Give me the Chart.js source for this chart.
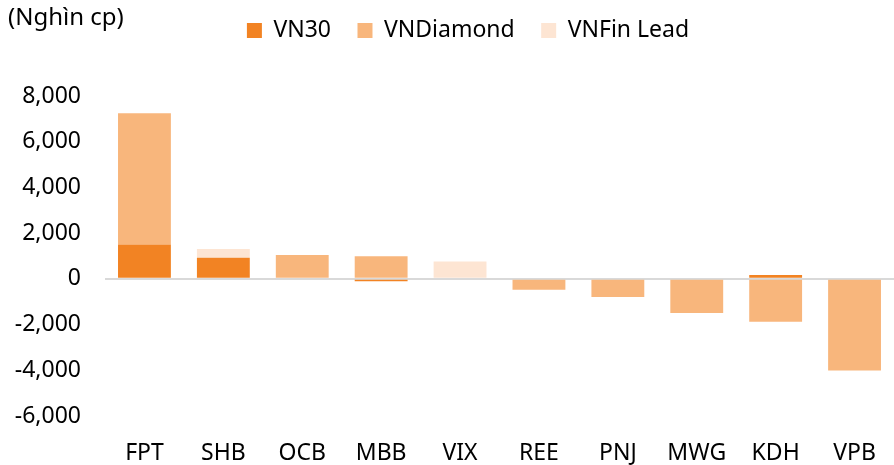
<!DOCTYPE html>
<html>
<head>
<meta charset="utf-8">
<script src="https://cdn.jsdelivr.net/npm/chart.js@4"></script>
<style>
  html, body { margin: 0; padding: 0; background: #fff; }
  #wrap { position: relative; width: 894px; height: 465px; }
</style>
</head>
<body>
<div id="wrap"><canvas id="c" width="894" height="465"></canvas></div>
<script>
const categories = ['FPT', 'SHB', 'OCB', 'MBB', 'VIX', 'REE', 'PNJ', 'MWG', 'KDH', 'VPB'];
const vn30      = [1500, 920, 0, -100, 0, 0, 0, 0, 170, 0];
const vnDiamond = [5740, 0, 1040, 990, 0, -480, -790, -1490, -1880, -4010];
const vnFinLead = [0, 390, 0, 0, 760, 0, 0, 0, 0, 0];
const seriesNames = ['VN30', 'VNDiamond', 'VNFin Lead'];
const unitLabel = '(Nghìn cp)';
const yMin = -6000, yMax = 8000, yStep = 2000;

const colors = ['#F28323', '#F8B67C', '#FDE5D3'];
const FONT = '"Noto Sans", "Open Sans", sans-serif';
const FS = 23;

const unitPlugin = {
  id: 'unitLabel',
  afterLayout(chart) {
    // shift the legend so that it sits where the reference places it
    const l = chart.legend;
    if (l && !l._shifted) {
      l.left += 21; l.right += 21; l._shifted = true;
    }
  },
  afterDraw(chart) {
    const ctx = chart.ctx;
    ctx.save();
    ctx.font = '24px ' + FONT;
    ctx.fillStyle = '#000';
    ctx.textAlign = 'left';
    ctx.textBaseline = 'middle';
    ctx.fillText(unitLabel, 8, 18);
    ctx.restore();
  }
};

new Chart(document.getElementById('c'), {
  type: 'bar',
  data: {
    labels: categories,
    datasets: [
      { label: seriesNames[0], data: vn30, backgroundColor: colors[0] },
      { label: seriesNames[1], data: vnDiamond, backgroundColor: colors[1] },
      { label: seriesNames[2], data: vnFinLead, backgroundColor: colors[2] }
    ]
  },
  options: {
    responsive: false,
    animation: false,
    devicePixelRatio: 1,
    layout: { padding: { top: -7.5, left: 0, right: 0, bottom: 0 } },
    datasets: { bar: { categoryPercentage: 1, barPercentage: 0.67, borderWidth: 0 } },
    plugins: {
      legend: {
        position: 'top',
        align: 'center',
        labels: {
          boxWidth: 15, boxHeight: 15, padding: 26.5,
          color: '#000',
          font: { family: FONT, size: FS }
        }
      },
      tooltip: { enabled: false },
      title: { display: false }
    },
    scales: {
      x: {
        stacked: true,
        grid: { display: true, drawOnChartArea: false, drawTicks: true, tickLength: 12, color: 'rgba(0,0,0,0)' },
        border: { display: false },
        ticks: { color: '#000', font: { family: FONT, size: FS }, padding: 12, maxRotation: 0 },
        afterFit(s) { s.height = 49; }
      },
      spacer: {
        type: 'linear',
        position: 'top',
        display: true,
        min: 0, max: 1,
        grid: { display: false, drawTicks: false },
        border: { display: false },
        ticks: { display: false, padding: 0 },
        afterFit(s) { s.height = 44; }
      },
      y: {
        stacked: true,
        min: yMin, max: yMax,
        ticks: {
          stepSize: yStep,
          color: '#000',
          padding: 24,
          font: { family: FONT, size: FS },
          callback: v => v.toLocaleString('en-US')
        },
        grid: {
          drawTicks: false,
          lineWidth: 2,
          color: ctx => (ctx.tick && ctx.tick.value === 0) ? '#D9D9D9' : 'rgba(0,0,0,0)'
        },
        border: { display: false },
        afterFit(s) { s.width = 105; }
      }
    }
  },
  plugins: [unitPlugin]
});
</script>
</body>
</html>
